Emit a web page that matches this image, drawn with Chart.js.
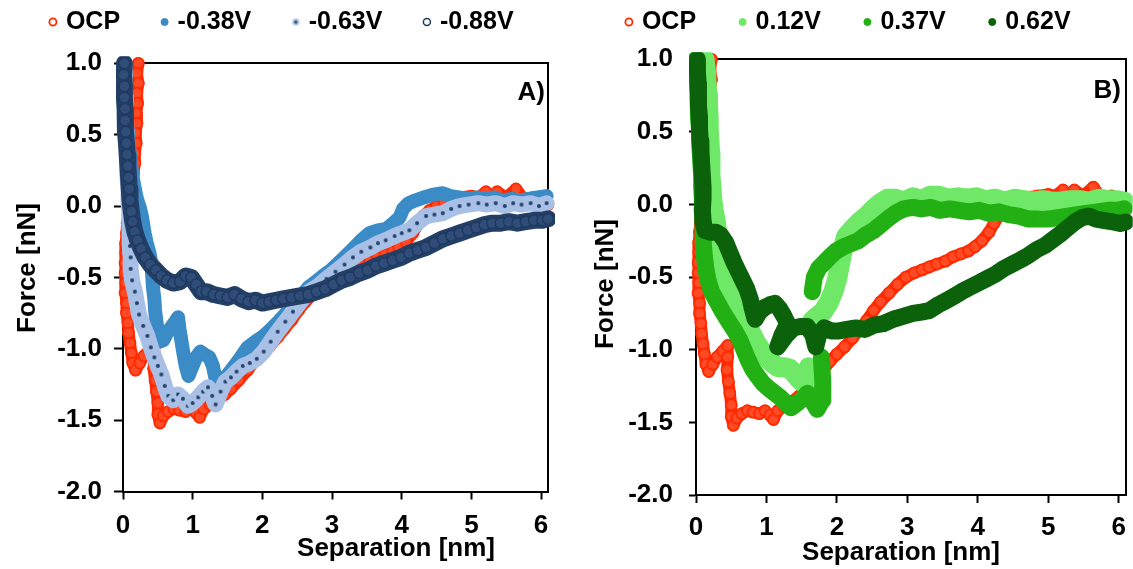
<!doctype html>
<html lang="en">
<head>
<meta charset="utf-8">
<title>Force vs separation</title>
<style>
  * { margin: 0; padding: 0; }
  body { width: 1133px; height: 569px; background: #fff; overflow: hidden; position: relative; }
  canvas { position: absolute; top: 0; }
  #chartA { left: 0; }
  #chartB { left: 566px; }
</style>
<script src="https://cdn.jsdelivr.net/npm/chart.js"></script>
</head>
<body>
<canvas id="chartA" width="566" height="569"></canvas>
<canvas id="chartB" width="567" height="569"></canvas>
<script>
// ---- data: [separation nm, force nN] ----
const ocp = [[0.22,1.0],[0.2,0.93],[0.22,0.86],[0.2,0.79],[0.21,0.72],[0.19,0.65],[0.2,0.58],[0.18,0.51],[0.19,0.44],[0.17,0.37],[0.17,0.3],[0.15,0.23],[0.14,0.16],[0.12,0.09],[0.1,0.02],[0.08,-0.05],[0.06,-0.12],[0.05,-0.19],[0.04,-0.26],[0.04,-0.33],[0.03,-0.4],[0.03,-0.47],[0.04,-0.54],[0.03,-0.61],[0.05,-0.68],[0.05,-0.75],[0.07,-0.82],[0.08,-0.89],[0.1,-0.96],[0.12,-1.03],[0.14,-1.1],[0.18,-1.15],[0.24,-1.1],[0.3,-1.05],[0.38,-1.01],[0.45,-0.97],[0.45,-1.05],[0.44,-1.14],[0.46,-1.22],[0.48,-1.3],[0.5,-1.38],[0.5,-1.46],[0.53,-1.52],[0.58,-1.47],[0.65,-1.44],[0.73,-1.42],[0.81,-1.43],[0.9,-1.44],[0.98,-1.42],[1.05,-1.45],[1.1,-1.48],[1.16,-1.42],[1.25,-1.39],[1.35,-1.36],[1.46,-1.32],[1.55,-1.28],[1.66,-1.22],[1.79,-1.15],[1.9,-1.08],[2.0,-1.03],[2.11,-0.98],[2.22,-0.92],[2.32,-0.86],[2.42,-0.8],[2.52,-0.73],[2.62,-0.67],[2.74,-0.61],[2.86,-0.55],[2.98,-0.5],[3.1,-0.47],[3.21,-0.45],[3.31,-0.43],[3.42,-0.41],[3.54,-0.39],[3.65,-0.36],[3.76,-0.34],[3.87,-0.32],[3.96,-0.29],[4.06,-0.25],[4.16,-0.19],[4.23,-0.13],[4.31,-0.07],[4.4,-0.03],[4.5,0.0],[4.61,0.03],[4.72,0.05],[4.85,0.06],[5.0,0.07],[5.1,0.06],[5.21,0.1],[5.3,0.05],[5.37,0.1],[5.5,0.06],[5.64,0.12],[5.75,0.05],[5.9,0.06],[6.0,0.04],[6.1,0.01]];

const vm038 = [[0.02,1.0],[0.02,0.92],[0.03,0.84],[0.03,0.76],[0.04,0.68],[0.05,0.6],[0.07,0.52],[0.08,0.44],[0.1,0.36],[0.12,0.28],[0.14,0.2],[0.17,0.12],[0.2,0.05],[0.24,-0.01],[0.27,-0.07],[0.29,-0.13],[0.31,-0.19],[0.34,-0.26],[0.38,-0.33],[0.41,-0.41],[0.42,-0.49],[0.43,-0.57],[0.45,-0.65],[0.46,-0.73],[0.48,-0.81],[0.5,-0.88],[0.53,-0.95],[0.58,-0.94],[0.63,-0.89],[0.69,-0.85],[0.75,-0.81],[0.79,-0.78],[0.81,-0.86],[0.84,-0.95],[0.87,-1.04],[0.9,-1.12],[0.94,-1.19],[0.99,-1.13],[1.05,-1.06],[1.11,-1.02],[1.17,-1.04],[1.24,-1.06],[1.29,-1.12],[1.32,-1.19],[1.36,-1.26],[1.44,-1.22],[1.52,-1.17],[1.6,-1.12],[1.69,-1.06],[1.79,-0.99],[1.9,-0.95],[2.02,-0.91],[2.13,-0.86],[2.25,-0.8],[2.36,-0.74],[2.46,-0.69],[2.56,-0.63],[2.66,-0.57],[2.77,-0.53],[2.87,-0.49],[2.98,-0.45],[3.09,-0.4],[3.2,-0.35],[3.3,-0.3],[3.42,-0.24],[3.54,-0.19],[3.66,-0.17],[3.78,-0.16],[3.88,-0.12],[3.97,-0.08],[4.02,-0.02],[4.1,0.02],[4.2,0.04],[4.32,0.06],[4.45,0.08],[4.59,0.09],[4.7,0.07],[4.82,0.06],[4.95,0.05],[5.08,0.06],[5.2,0.05],[5.32,0.06],[5.45,0.04],[5.58,0.05],[5.7,0.04],[5.82,0.05],[5.95,0.06],[6.08,0.07]];

const vm063 = [[0.02,1.0],[0.03,0.92],[0.02,0.84],[0.03,0.76],[0.04,0.68],[0.04,0.6],[0.05,0.52],[0.05,0.44],[0.06,0.36],[0.06,0.28],[0.07,0.2],[0.08,0.12],[0.08,0.04],[0.09,-0.04],[0.09,-0.12],[0.1,-0.2],[0.1,-0.28],[0.11,-0.36],[0.11,-0.44],[0.13,-0.52],[0.17,-0.6],[0.2,-0.68],[0.23,-0.76],[0.29,-0.84],[0.35,-0.91],[0.4,-0.99],[0.45,-1.06],[0.5,-1.12],[0.55,-1.18],[0.6,-1.26],[0.65,-1.33],[0.72,-1.36],[0.79,-1.32],[0.86,-1.35],[0.93,-1.4],[1.0,-1.38],[1.08,-1.34],[1.15,-1.3],[1.22,-1.27],[1.28,-1.33],[1.33,-1.39],[1.4,-1.3],[1.47,-1.23],[1.55,-1.2],[1.63,-1.16],[1.72,-1.12],[1.82,-1.1],[1.92,-1.07],[2.02,-1.02],[2.12,-0.95],[2.22,-0.88],[2.33,-0.81],[2.44,-0.74],[2.55,-0.67],[2.67,-0.6],[2.8,-0.56],[2.92,-0.51],[3.05,-0.46],[3.18,-0.41],[3.3,-0.36],[3.42,-0.32],[3.55,-0.29],[3.66,-0.26],[3.77,-0.24],[3.9,-0.21],[4.0,-0.19],[4.11,-0.17],[4.22,-0.12],[4.35,-0.07],[4.47,-0.06],[4.59,-0.05],[4.71,-0.02],[4.83,0.0],[4.96,0.01],[5.1,0.02],[5.22,0.01],[5.35,0.02],[5.48,0.0],[5.6,0.02],[5.72,0.01],[5.85,0.02],[5.97,0.0],[6.08,0.02]];

const vm088 = [[0.02,1.0],[0.01,0.92],[0.02,0.84],[0.02,0.76],[0.03,0.68],[0.03,0.6],[0.04,0.52],[0.05,0.44],[0.06,0.36],[0.07,0.28],[0.08,0.2],[0.09,0.12],[0.1,0.04],[0.12,-0.04],[0.14,-0.11],[0.17,-0.18],[0.21,-0.24],[0.26,-0.3],[0.32,-0.36],[0.39,-0.41],[0.47,-0.45],[0.55,-0.49],[0.63,-0.52],[0.72,-0.54],[0.82,-0.53],[0.9,-0.49],[0.98,-0.5],[1.05,-0.55],[1.12,-0.6],[1.2,-0.6],[1.3,-0.62],[1.4,-0.63],[1.5,-0.64],[1.6,-0.62],[1.7,-0.65],[1.8,-0.67],[1.9,-0.66],[2.0,-0.68],[2.1,-0.67],[2.2,-0.66],[2.3,-0.65],[2.42,-0.64],[2.54,-0.63],[2.66,-0.62],[2.78,-0.6],[2.9,-0.58],[3.02,-0.55],[3.14,-0.52],[3.26,-0.5],[3.39,-0.47],[3.51,-0.45],[3.63,-0.42],[3.75,-0.4],[3.87,-0.38],[3.99,-0.36],[4.11,-0.33],[4.23,-0.31],[4.35,-0.29],[4.47,-0.26],[4.59,-0.23],[4.71,-0.21],[4.83,-0.19],[4.95,-0.17],[5.07,-0.15],[5.19,-0.13],[5.3,-0.12],[5.42,-0.12],[5.54,-0.11],[5.66,-0.12],[5.78,-0.11],[5.9,-0.1],[6.02,-0.1],[6.1,-0.09]];

const vp012 = [[0.12,1.0],[0.14,0.92],[0.15,0.84],[0.16,0.76],[0.17,0.68],[0.18,0.6],[0.18,0.52],[0.19,0.44],[0.2,0.36],[0.2,0.28],[0.21,0.2],[0.22,0.12],[0.23,0.04],[0.25,-0.04],[0.28,-0.11],[0.3,-0.2],[0.32,-0.28],[0.34,-0.36],[0.35,-0.44],[0.38,-0.52],[0.44,-0.58],[0.52,-0.63],[0.6,-0.7],[0.68,-0.77],[0.76,-0.86],[0.84,-0.94],[0.92,-1.0],[1.0,-1.05],[1.08,-1.09],[1.16,-1.12],[1.25,-1.12],[1.33,-1.13],[1.41,-1.17],[1.48,-1.21],[1.55,-1.24],[1.6,-1.12],[1.65,-0.8],[1.72,-0.77],[1.8,-0.74],[1.88,-0.68],[1.95,-0.6],[2.0,-0.52],[2.04,-0.42],[2.08,-0.32],[2.13,-0.22],[2.22,-0.17],[2.32,-0.12],[2.42,-0.08],[2.52,-0.03],[2.62,0.01],[2.72,0.04],[2.83,0.04],[2.95,0.02],[3.08,0.05],[3.2,0.03],[3.32,0.06],[3.45,0.06],[3.58,0.04],[3.72,0.05],[3.85,0.04],[3.98,0.05],[4.11,0.03],[4.25,0.04],[4.38,0.02],[4.52,0.04],[4.65,0.03],[4.78,0.02],[4.92,0.03],[5.05,0.02],[5.18,0.02],[5.32,0.03],[5.45,0.03],[5.58,0.02],[5.72,0.04],[5.85,0.03],[5.98,0.03],[6.08,0.02]];

const vp037 = [[0.0,1.0],[0.01,0.92],[0.02,0.84],[0.03,0.76],[0.03,0.68],[0.04,0.6],[0.05,0.52],[0.05,0.44],[0.06,0.36],[0.07,0.28],[0.08,0.2],[0.08,0.12],[0.09,0.04],[0.09,-0.04],[0.1,-0.12],[0.1,-0.2],[0.11,-0.28],[0.12,-0.36],[0.14,-0.44],[0.17,-0.52],[0.22,-0.6],[0.3,-0.67],[0.38,-0.74],[0.47,-0.81],[0.55,-0.87],[0.62,-0.93],[0.68,-1.0],[0.74,-1.07],[0.8,-1.13],[0.87,-1.18],[0.95,-1.23],[1.04,-1.27],[1.12,-1.3],[1.2,-1.33],[1.28,-1.37],[1.35,-1.4],[1.43,-1.37],[1.51,-1.34],[1.58,-1.3],[1.65,-1.35],[1.72,-1.41],[1.79,-1.35],[1.8,-1.22],[1.78,-1.05],[1.65,-0.6],[1.68,-0.5],[1.74,-0.44],[1.82,-0.4],[1.9,-0.36],[1.99,-0.32],[2.1,-0.29],[2.2,-0.27],[2.3,-0.25],[2.41,-0.21],[2.52,-0.18],[2.62,-0.14],[2.72,-0.1],[2.83,-0.06],[2.95,-0.03],[3.08,-0.02],[3.2,-0.03],[3.33,-0.02],[3.46,-0.04],[3.6,-0.03],[3.74,-0.04],[3.88,-0.05],[4.02,-0.04],[4.16,-0.06],[4.3,-0.05],[4.44,-0.07],[4.58,-0.08],[4.72,-0.1],[4.86,-0.1],[5.0,-0.1],[5.14,-0.09],[5.28,-0.08],[5.42,-0.07],[5.56,-0.06],[5.7,-0.05],[5.84,-0.04],[5.98,-0.04],[6.08,-0.03]];

const vp062 = [[0.02,1.0],[0.02,0.92],[0.03,0.84],[0.03,0.76],[0.04,0.68],[0.05,0.6],[0.05,0.52],[0.06,0.44],[0.07,0.36],[0.08,0.28],[0.09,0.2],[0.1,0.12],[0.1,0.04],[0.09,-0.04],[0.1,-0.12],[0.13,-0.18],[0.2,-0.19],[0.28,-0.19],[0.35,-0.21],[0.42,-0.26],[0.48,-0.33],[0.54,-0.4],[0.6,-0.46],[0.66,-0.52],[0.72,-0.58],[0.77,-0.65],[0.8,-0.72],[0.84,-0.79],[0.9,-0.74],[0.97,-0.71],[1.05,-0.69],[1.12,-0.68],[1.19,-0.72],[1.25,-0.77],[1.3,-0.82],[1.22,-0.9],[1.16,-0.98],[1.28,-0.9],[1.38,-0.85],[1.48,-0.84],[1.58,-0.84],[1.66,-0.9],[1.7,-0.98],[1.74,-0.9],[1.82,-0.85],[1.92,-0.87],[2.03,-0.87],[2.14,-0.86],[2.27,-0.85],[2.4,-0.86],[2.53,-0.83],[2.66,-0.82],[2.8,-0.79],[2.94,-0.77],[3.08,-0.75],[3.2,-0.74],[3.31,-0.73],[3.44,-0.69],[3.56,-0.66],[3.67,-0.63],[3.77,-0.6],[3.89,-0.57],[4.01,-0.54],[4.13,-0.51],[4.25,-0.48],[4.37,-0.44],[4.49,-0.41],[4.61,-0.38],[4.72,-0.35],[4.84,-0.31],[4.96,-0.28],[5.07,-0.24],[5.18,-0.2],[5.28,-0.16],[5.38,-0.12],[5.48,-0.09],[5.58,-0.08],[5.68,-0.1],[5.8,-0.11],[5.92,-0.12],[6.02,-0.13],[6.1,-0.12]];

const namesA = ['OCP', '-0.38V', '-0.63V', '-0.88V'];
const namesB = ['OCP', '0.12V', '0.37V', '0.62V'];
const sepTicks = [0, 1, 2, 3, 4, 5, 6];
const forceTicks = [1.0, 0.5, 0.0, -0.5, -1.0, -1.5, -2.0];

const FONT = '"Liberation Sans", Arial, sans-serif';

// light blue disc with a navy centre dot (the -0.63V marker)
function dotMarker(r, dotR) {
  const c = document.createElement('canvas');
  c.width = c.height = 2 * r + 2;
  const g = c.getContext('2d');
  g.fillStyle = '#a9c0e6';
  g.beginPath(); g.arc(r + 1, r + 1, r, 0, 2 * Math.PI); g.fill();
  g.fillStyle = '#22406a';
  g.beginPath(); g.arc(r + 1, r + 1, dotR, 0, 2 * Math.PI); g.fill();
  return c;
}

// a sudden jump-off (snap) leaves no trace between the two points
const snap = ctx => Math.abs(ctx.p1.parsed.y - ctx.p0.parsed.y) > 0.25 ? 'rgba(0,0,0,0)' : undefined;

function series(label, pts, o) {
  return {
    label,
    data: pts.map(([x, y]) => ({x, y})),
    showLine: true,
    borderColor: o.band,
    borderWidth: o.width,
    borderJoinStyle: 'round',
    borderCapStyle: 'round',
    segment: {borderColor: snap},
    pointStyle: o.style || 'circle',
    pointRadius: o.r || 5.5,
    pointBackgroundColor: o.fill,
    pointBorderColor: o.edge,
    pointBorderWidth: o.bw,
    legendStyle: o.legendStyle,
    legendFill: o.legendFill,
    order: o.order,
    clip: 7
  };
}

// axis titles and panel tag, placed like the original figure
const panelText = {
  id: 'panelText',
  afterDraw(chart, args, o) {
    const ctx = chart.ctx;
    ctx.save();
    ctx.fillStyle = '#000';
    ctx.font = 'bold 26px ' + FONT;
    ctx.textAlign = 'center';
    ctx.textBaseline = 'middle';
    ctx.fillText('Separation [nm]', o.xTitle[0], o.xTitle[1]);
    ctx.save();
    ctx.translate(o.yTitle[0], o.yTitle[1]);
    ctx.rotate(-Math.PI / 2);
    ctx.fillText('Force [nN]', 0, 0);
    ctx.restore();
    ctx.textAlign = 'right';
    ctx.fillText(o.tag, o.tagPos[0], o.tagPos[1]);
    ctx.restore();
  }
};

function panel(id, datasets, L) {
  const tickFont = {family: FONT, size: 26, weight: 'bold'};
  return new Chart(document.getElementById(id), {
    type: 'scatter',
    data: {datasets},
    options: {
      responsive: false,
      animation: false,
      events: [],
      layout: {padding: {top: L.padTop, left: 0, right: 0, bottom: 0}},
      plugins: {
        tooltip: {enabled: false},
        legend: {
          position: 'top',
          labels: {
            usePointStyle: true,
            boxWidth: 1,
            boxHeight: 5,
            padding: L.legendGap,
            color: '#000',
            font: {family: FONT, size: 25, weight: 'bold'},
            sort: (a, b) => a.datasetIndex - b.datasetIndex,
            generateLabels(chart) {
              const items = Chart.defaults.plugins.legend.labels.generateLabels(chart);
              items.forEach(it => {
                const ds = chart.data.datasets[it.datasetIndex];
                if (ds.legendStyle) it.pointStyle = ds.legendStyle;
                if (ds.legendFill) it.fillStyle = ds.legendFill;
              });
              return items;
            }
          }
        },
        panelText: L.text
      },
      scales: {
        x: {
          type: 'linear', position: 'bottom', min: 0, max: 6.1,
          afterFit: s => { s.height = L.xAxisH; s.paddingLeft = 0; s.paddingRight = 0; },
          afterBuildTicks: s => { s.ticks = sepTicks.map(v => ({value: v})); },
          ticks: {color: '#000', font: tickFont, padding: L.xPad, maxRotation: 0},
          grid: {drawOnChartArea: false, tickLength: 8, tickWidth: 2, color: '#000'},
          border: {color: '#000', width: 2}
        },
        y: {
          type: 'linear', position: 'left', min: -2, max: 1,
          afterFit: s => { s.width = L.yAxisW; },
          afterBuildTicks: s => { s.ticks = forceTicks.map(v => ({value: v})); },
          ticks: {color: '#000', font: tickFont, padding: L.yPad, callback: v => v.toFixed(1)},
          grid: {drawOnChartArea: false, tickLength: L.yTick, tickWidth: 2, color: '#000'},
          border: {color: '#000', width: 2}
        },
        xTop: {
          type: 'linear', axis: 'x', position: 'top',
          afterFit: s => { s.height = L.topGap; },
          ticks: {display: false},
          grid: {drawOnChartArea: false, drawTicks: false},
          border: {color: '#000', width: 2}
        },
        yRight: {
          type: 'linear', axis: 'y', position: 'right',
          afterFit: s => { s.width = L.rightGap; },
          ticks: {display: false},
          grid: {drawOnChartArea: false, drawTicks: false},
          border: {color: '#000', width: 2}
        }
      }
    },
    plugins: [panelText]
  });
}

const RED = '#ff2a00';

panel('chartA', [
  series(namesA[0], ocp, {band: RED, width: 12, fill: '#ff4a26', edge: RED, bw: 1.8, legendFill: '#fff', order: 3}),
  series(namesA[1], vm038, {band: '#3a8bc6', width: 14, fill: '#3a8bc6', edge: '#3a8bc6', bw: 1, order: 2}),
  series(namesA[2], vm063, {band: '#a9c0e6', width: 16, style: dotMarker(6, 2), legendStyle: dotMarker(3.5, 1.5), fill: '#a9c0e6', edge: '#a9c0e6', bw: 1, order: 1}),
  series(namesA[3], vm088, {band: '#243f66', width: 17, fill: '#2f4d78', edge: '#1f3a60', bw: 1.5, legendFill: '#fff', order: 0})
], {
  padTop: -34.5, legendGap: 44, topGap: 18.8, rightGap: 18, yAxisW: 123, xAxisH: 77.5,
  xPad: 11, yPad: 12, yTick: 9,
  text: {xTitle: [396, 549], yTitle: [28, 268], tag: 'A)', tagPos: [545, 93]}
});

panel('chartB', [
  series(namesB[0], ocp, {band: RED, width: 12, fill: '#ff4a26', edge: RED, bw: 1.8, legendFill: '#fff', order: 3}),
  series(namesB[1], vp012, {band: '#6ee866', width: 20, fill: '#6ee866', edge: '#6ee866', bw: 1, order: 2}),
  series(namesB[2], vp037, {band: '#22b014', width: 17, fill: '#22b014', edge: '#22b014', bw: 1, order: 1}),
  series(namesB[3], vp062, {band: '#0b620b', width: 17, fill: '#0b620b', edge: '#0b620b', bw: 1, order: 0})
], {
  padTop: -36.5, legendGap: 46, topGap: 14.8, rightGap: 4.5, yAxisW: 130, xAxisH: 74,
  xPad: 9, yPad: 16, yTick: 7,
  text: {xTitle: [335, 553], yTitle: [40, 284], tag: 'B)', tagPos: [555, 91]}
});
</script>
</body>
</html>
